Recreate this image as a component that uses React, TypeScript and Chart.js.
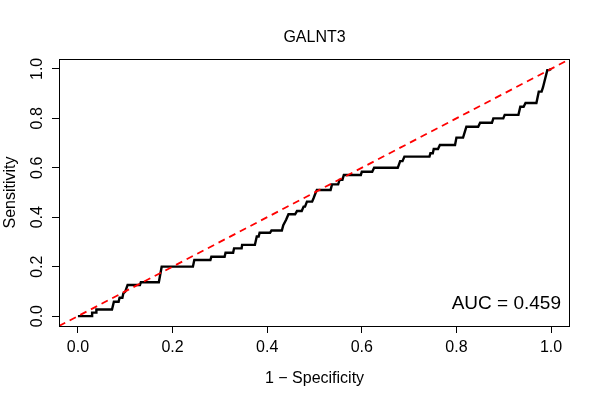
import React, { useEffect, useRef } from 'react';
import { Chart, registerables } from 'chart.js';

Chart.register(...registerables);

// ROC curve vertices (1 - specificity, sensitivity)
const fpr = [
  0, 0.030, 0.030, 0.039, 0.039, 0.072, 0.076, 0.086, 0.088, 0.094,
  0.096, 0.100, 0.105, 0.131, 0.133, 0.171, 0.177, 0.243, 0.246, 0.280,
  0.282, 0.310, 0.312, 0.328, 0.330, 0.346, 0.347, 0.374, 0.378, 0.382,
  0.384, 0.406, 0.409, 0.431, 0.434, 0.440, 0.445, 0.459, 0.463, 0.473,
  0.477, 0.480, 0.484, 0.495, 0.498, 0.502, 0.505, 0.534, 0.537, 0.550,
  0.553, 0.559, 0.562, 0.598, 0.600, 0.622, 0.626, 0.676, 0.681, 0.686,
  0.690, 0.743, 0.745, 0.750, 0.752, 0.761, 0.765, 0.797, 0.800, 0.814,
  0.821, 0.846, 0.850, 0.875, 0.878, 0.899, 0.902, 0.931, 0.935, 0.942,
  0.946, 0.969, 0.974, 0.980, 0.983, 0.992, 0.996, 1,
];
const tpr = [
  0, 0, 0.014, 0.014, 0.027, 0.027, 0.058, 0.058, 0.074, 0.074,
  0.092, 0.099, 0.126, 0.126, 0.137, 0.137, 0.200, 0.200, 0.227, 0.227,
  0.240, 0.240, 0.256, 0.256, 0.274, 0.274, 0.288, 0.288, 0.322, 0.322,
  0.337, 0.337, 0.346, 0.346, 0.368, 0.390, 0.412, 0.412, 0.425, 0.425,
  0.443, 0.443, 0.463, 0.463, 0.477, 0.497, 0.510, 0.510, 0.533, 0.533,
  0.551, 0.551, 0.571, 0.571, 0.584, 0.584, 0.600, 0.600, 0.627, 0.627,
  0.645, 0.645, 0.659, 0.659, 0.676, 0.676, 0.692, 0.692, 0.722, 0.722,
  0.766, 0.766, 0.782, 0.782, 0.800, 0.800, 0.814, 0.814, 0.847, 0.847,
  0.862, 0.862, 0.908, 0.908, 0.926, 0.995, 0.995, 1,
];

// reference (chance) line spans the full axis range
const diagX = [-0.04, 1.04];
const diagY = [-0.04, 1.04];

const axisMin = -0.04;
const axisMax = 1.04;
const xTicks = [0, 0.2, 0.4, 0.6, 0.8, 1.0];
const yTicks = [0, 0.2, 0.4, 0.6, 0.8, 1.0];

const chartTitle = 'GALNT3';
const xTitle = '1 − Specificity';
const yTitle = 'Sensitivity';
const aucLabel = 'AUC = 0.459';

const FONT = '"Liberation Sans", Arial, Helvetica, sans-serif';

export default function App() {
  const ref = useRef<HTMLCanvasElement>(null);

  useEffect(() => {
    if (!ref.current) return;

    const textPlugin = {
      id: 'rStyleText',
      afterDraw(chart: any) {
        const { ctx, chartArea: a, scales } = chart;
        const ys = scales.y;
        ctx.save();
        // box
        ctx.strokeStyle = '#000';
        ctx.lineWidth = 1;
        ctx.strokeRect(Math.round(a.left) + 0.5, Math.round(a.top) + 0.5,
          Math.round(a.right - a.left) - 1, Math.round(a.bottom - a.top));
        ctx.fillStyle = '#000';
        // title
        ctx.font = `16px ${FONT}`;
        ctx.textAlign = 'center';
        ctx.textBaseline = 'alphabetic';
        ctx.fillText(chartTitle, (a.left + a.right) / 2, 42);
        // x axis title
        ctx.fillText(xTitle, (a.left + a.right) / 2, 383);
        // y tick labels (rotated)
        yTicks.forEach((v) => {
          const py = ys.getPixelForValue(v);
          ctx.save();
          ctx.translate(41.5, py);
          ctx.rotate(-Math.PI / 2);
          ctx.textAlign = 'center';
          ctx.fillText(v.toFixed(1), 0, 0);
          ctx.restore();
        });
        // y axis title
        ctx.save();
        ctx.translate(14.5, (a.top + a.bottom) / 2);
        ctx.rotate(-Math.PI / 2);
        ctx.textAlign = 'center';
        ctx.fillText(yTitle, 0, 0);
        ctx.restore();
        // AUC text
        ctx.font = `19px ${FONT}`;
        ctx.textAlign = 'right';
        ctx.fillText(aucLabel, 561, 309);
        ctx.restore();
      },
    };

    const chart = new Chart(ref.current, {
      type: 'line',
      data: {
        datasets: [
          {
            label: 'chance',
            data: diagX.map((x, i) => ({ x, y: diagY[i] })),
            borderColor: '#FF0000',
            borderWidth: 1.8,
            borderDash: [7, 5],
            pointRadius: 0,
            tension: 0,
            fill: false,
          },
          {
            label: 'ROC',
            data: fpr.map((x, i) => ({ x, y: tpr[i] })),
            borderColor: '#000000',
            borderWidth: 2.4,
            pointRadius: 0,
            tension: 0,
            fill: false,
          },
        ],
      },
      plugins: [textPlugin],
      options: {
        responsive: false,
        animation: false,
        events: [],
        layout: { padding: { top: 59, right: 30, left: 0, bottom: 0 } },
        plugins: {
          legend: { display: false },
          title: { display: false },
          tooltip: { enabled: false },
        },
        scales: {
          x: {
            type: 'linear',
            min: axisMin,
            max: axisMax,
            afterBuildTicks: (s: any) => {
              s.ticks = xTicks.map((value) => ({ value }));
            },
            afterFit: (s: any) => {
              s.height = 74;
            },
            ticks: {
              color: '#000',
              font: { family: FONT, size: 16 },
              padding: 5,
              maxRotation: 0,
              autoSkip: false,
              callback: (v: any) => Number(v).toFixed(1),
            },
            grid: {
              drawOnChartArea: false,
              drawTicks: true,
              tickLength: 7,
              tickColor: '#000',
              color: '#000',
            },
            border: { display: false },
          },
          y: {
            type: 'linear',
            min: axisMin,
            max: axisMax,
            afterBuildTicks: (s: any) => {
              s.ticks = yTicks.map((value) => ({ value }));
            },
            afterFit: (s: any) => {
              s.width = 59;
            },
            ticks: { display: false },
            grid: {
              drawOnChartArea: false,
              drawTicks: true,
              tickLength: 7,
              tickColor: '#000',
              color: '#000',
            },
            border: { display: false },
          },
        },
      },
    });

    return () => chart.destroy();
  }, []);

  return (
    <div style={{ position: 'fixed', left: 0, top: 0, width: 600, height: 400, background: '#fff' }}>
      <canvas ref={ref} width={600} height={400} style={{ width: 600, height: 400 }} />
    </div>
  );
}
